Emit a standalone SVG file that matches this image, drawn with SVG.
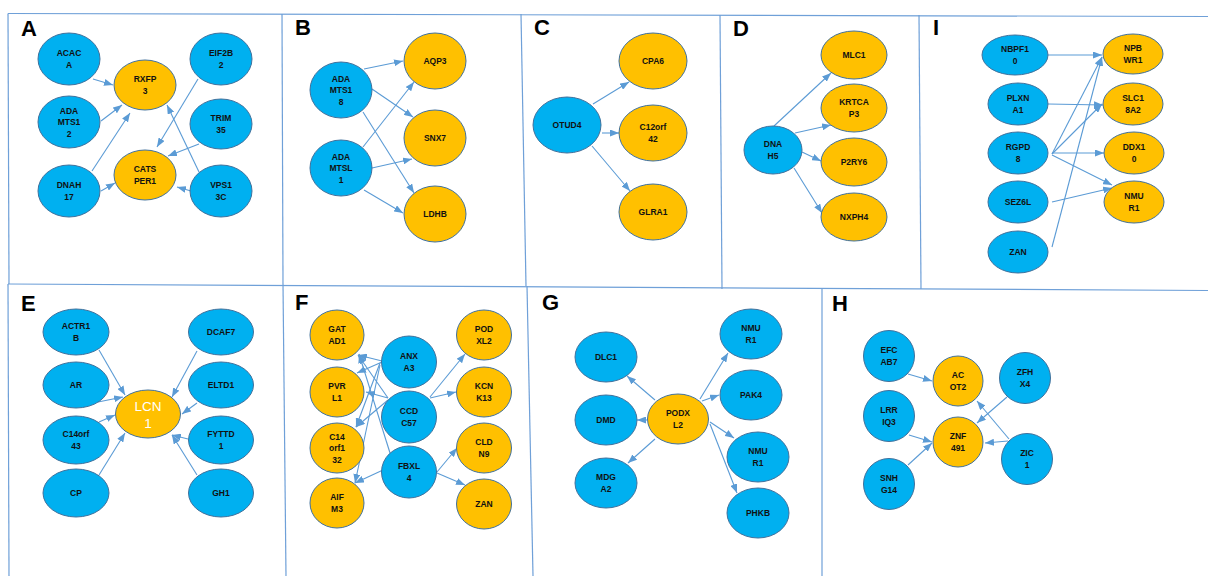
<svg xmlns="http://www.w3.org/2000/svg" width="1208" height="576" viewBox="0 0 1208 576">
<style>
.bg{fill:#ffffff}
.frame{stroke:#6FA0D8;stroke-width:1.2;fill:none}
.b{fill:#00B0F0;stroke:#41719C;stroke-width:1}
.o{fill:#FFC000;stroke:#41719C;stroke-width:1}
.t{font-family:"Liberation Sans",Arial,sans-serif;font-weight:bold;font-size:8.5px;fill:#111111;text-anchor:middle}
.w{font-family:"Liberation Sans",Arial,sans-serif;font-size:13.5px;fill:#ffffff;text-anchor:middle}
.lbl{font-family:"Liberation Sans",Arial,sans-serif;font-weight:bold;font-size:22px;fill:#000000}
.e line{stroke:#5B9BD5;stroke-width:1.1;marker-end:url(#ah)}
</style>
<defs>
<marker id="ah" markerUnits="userSpaceOnUse" markerWidth="9" markerHeight="7" refX="9" refY="3.5" orient="auto">
<path d="M0,0 L9,3.5 L0,7 z" fill="#5B9BD5"/>
</marker>
</defs>
<rect class="bg" x="0" y="0" width="1208" height="576"/>
<g id="frames" class="frame">
<line x1="8" y1="13.5" x2="1208" y2="16.5"/>
<line x1="8" y1="284" x2="1208" y2="290.5"/>
<line x1="8" y1="13.5" x2="9" y2="284"/>
<line x1="8" y1="284" x2="9" y2="576"/>
<line x1="282" y1="14" x2="283" y2="284"/>
<line x1="521" y1="14" x2="526" y2="286"/>
<line x1="720" y1="15" x2="722" y2="289"/>
<line x1="919" y1="15" x2="921" y2="289"/>
<line x1="283" y1="284" x2="286" y2="576"/>
<line x1="527" y1="286" x2="533" y2="576"/>
<line x1="822" y1="289" x2="822" y2="576"/>
</g>
<g id="labels">
<text class="lbl" x="21" y="36">A</text>
<text class="lbl" x="295" y="35">B</text>
<text class="lbl" x="534" y="35">C</text>
<text class="lbl" x="733" y="36">D</text>
<text class="lbl" x="933" y="35">I</text>
<text class="lbl" x="21" y="311">E</text>
<text class="lbl" x="295" y="310">F</text>
<text class="lbl" x="542" y="310">G</text>
<text class="lbl" x="832" y="311">H</text>
</g>
<g id="connectors" class="e">
<!-- A -->
<line x1="93" y1="79" x2="113" y2="85"/>
<line x1="101" y1="121" x2="122" y2="105"/>
<line x1="92" y1="171" x2="130" y2="113"/>
<line x1="101" y1="191" x2="115" y2="183"/>
<line x1="198" y1="79" x2="157" y2="147"/>
<line x1="199" y1="144" x2="168" y2="156"/>
<line x1="199" y1="172" x2="167" y2="105"/>
<line x1="191" y1="191" x2="177" y2="187"/>
<!-- B -->
<line x1="364" y1="69" x2="403" y2="61"/>
<line x1="372" y1="89" x2="413" y2="117"/>
<line x1="363" y1="112" x2="414" y2="193"/>
<line x1="363" y1="147" x2="414" y2="82"/>
<line x1="372" y1="168" x2="412" y2="159"/>
<line x1="364" y1="190" x2="403" y2="213"/>
<!-- C -->
<line x1="593" y1="104" x2="629" y2="82"/>
<line x1="602" y1="133" x2="619" y2="133"/>
<line x1="592" y1="146" x2="630" y2="191"/>
<!-- D -->
<line x1="774" y1="126" x2="831" y2="73"/>
<line x1="795" y1="133" x2="831" y2="125"/>
<line x1="802" y1="152" x2="821" y2="161"/>
<line x1="794" y1="168" x2="822" y2="213"/>
<!-- I -->
<line x1="1048" y1="55" x2="1102" y2="55"/>
<line x1="1048" y1="104" x2="1103" y2="105"/>
<line x1="1052" y1="154" x2="1102" y2="57"/>
<line x1="1052" y1="154" x2="1102" y2="104"/>
<line x1="1052" y1="153" x2="1104" y2="153"/>
<line x1="1052" y1="155" x2="1112" y2="185"/>
<line x1="1052" y1="202" x2="1112" y2="188"/>
<line x1="1052" y1="247" x2="1102" y2="57"/>
<!-- E -->
<line x1="99" y1="350" x2="125" y2="395"/>
<line x1="98" y1="402" x2="123" y2="397"/>
<line x1="99" y1="422" x2="115" y2="415"/>
<line x1="99" y1="475" x2="125" y2="433"/>
<line x1="197" y1="351" x2="172" y2="397"/>
<line x1="197" y1="403" x2="182" y2="414"/>
<line x1="188" y1="439" x2="172" y2="435"/>
<line x1="197" y1="475" x2="172" y2="435"/>
<!-- F -->
<line x1="382" y1="361" x2="358" y2="355"/>
<line x1="382" y1="362" x2="357" y2="373"/>
<line x1="380" y1="363" x2="356" y2="427"/>
<line x1="380" y1="365" x2="355" y2="483"/>
<line x1="388" y1="398" x2="358" y2="355"/>
<line x1="388" y1="398" x2="366" y2="392"/>
<line x1="388" y1="400" x2="356" y2="427"/>
<line x1="390" y1="453" x2="359" y2="354"/>
<line x1="383" y1="470" x2="355" y2="483"/>
<line x1="430" y1="397" x2="465" y2="354"/>
<line x1="430" y1="398" x2="456" y2="392"/>
<line x1="437" y1="472" x2="457" y2="448"/>
<line x1="437" y1="473" x2="465" y2="485"/>
<!-- G -->
<line x1="655" y1="400" x2="627" y2="376"/>
<line x1="647" y1="420" x2="637" y2="420"/>
<line x1="655" y1="439" x2="628" y2="463"/>
<line x1="700" y1="399" x2="728" y2="353"/>
<line x1="702" y1="401" x2="719" y2="395"/>
<line x1="710" y1="422" x2="734" y2="438"/>
<line x1="710" y1="424" x2="737" y2="493"/>
<!-- H -->
<line x1="908" y1="374" x2="932" y2="381"/>
<line x1="909" y1="435" x2="932" y2="442"/>
<line x1="908" y1="465" x2="932" y2="443"/>
<line x1="1007" y1="397" x2="977" y2="423"/>
<line x1="1009" y1="439" x2="977" y2="401"/>
<line x1="1008" y1="441" x2="985" y2="443"/>
</g>
<!-- Panel A -->
<g id="A-ACACA"><ellipse class="b" cx="69" cy="59" rx="31" ry="26"/><text class="t" x="69" y="56">ACAC</text><text class="t" x="69" y="68">A</text></g>
<g id="A-ADAMTS12"><ellipse class="b" cx="69" cy="122" rx="31" ry="26"/><text class="t" x="69" y="113.5">ADA</text><text class="t" x="69" y="125">MTS1</text><text class="t" x="69" y="136.5">2</text></g>
<g id="A-DNAH17"><ellipse class="b" cx="69" cy="191" rx="31" ry="26"/><text class="t" x="69" y="188">DNAH</text><text class="t" x="69" y="200">17</text></g>
<g id="A-RXFP3"><ellipse class="o" cx="145" cy="85" rx="31" ry="25"/><text class="t" x="145" y="82">RXFP</text><text class="t" x="145" y="94">3</text></g>
<g id="A-CATSPER1"><ellipse class="o" cx="145" cy="175" rx="31" ry="25"/><text class="t" x="145" y="172">CATS</text><text class="t" x="145" y="184">PER1</text></g>
<g id="A-EIF2B2"><ellipse class="b" cx="221" cy="59" rx="31" ry="26"/><text class="t" x="221" y="56">EIF2B</text><text class="t" x="221" y="68">2</text></g>
<g id="A-TRIM35"><ellipse class="b" cx="221" cy="124" rx="31" ry="25"/><text class="t" x="221" y="121">TRIM</text><text class="t" x="221" y="133">35</text></g>
<g id="A-VPS13C"><ellipse class="b" cx="221" cy="191" rx="31" ry="26"/><text class="t" x="221" y="188">VPS1</text><text class="t" x="221" y="200">3C</text></g>
<!-- Panel B -->
<g id="B-ADAMTS18"><ellipse class="b" cx="341" cy="90" rx="31" ry="28"/><text class="t" x="341" y="81.5">ADA</text><text class="t" x="341" y="93">MTS1</text><text class="t" x="341" y="104.5">8</text></g>
<g id="B-ADAMTSL1"><ellipse class="b" cx="341" cy="168" rx="31" ry="28"/><text class="t" x="341" y="159.5">ADA</text><text class="t" x="341" y="171">MTSL</text><text class="t" x="341" y="182.5">1</text></g>
<g id="B-AQP3"><ellipse class="o" cx="435" cy="61" rx="31" ry="28"/><text class="t" x="435" y="64">AQP3</text></g>
<g id="B-SNX7"><ellipse class="o" cx="435" cy="138" rx="31" ry="28"/><text class="t" x="435" y="141">SNX7</text></g>
<g id="B-LDHB"><ellipse class="o" cx="435" cy="214" rx="31" ry="28"/><text class="t" x="435" y="217">LDHB</text></g>
<!-- Panel C -->
<g id="C-OTUD4"><ellipse class="b" cx="567" cy="125" rx="34" ry="28"/><text class="t" x="567" y="128">OTUD4</text></g>
<g id="C-CPA6"><ellipse class="o" cx="653" cy="61" rx="34" ry="28"/><text class="t" x="653" y="64">CPA6</text></g>
<g id="C-C12orf42"><ellipse class="o" cx="653" cy="133" rx="34" ry="28"/><text class="t" x="653" y="130">C12orf</text><text class="t" x="653" y="142">42</text></g>
<g id="C-GLRA1"><ellipse class="o" cx="653" cy="212" rx="34" ry="28"/><text class="t" x="653" y="215">GLRA1</text></g>
<!-- Panel D -->
<g id="D-DNAH5"><ellipse class="b" cx="773" cy="150" rx="29" ry="24"/><text class="t" x="773" y="147">DNA</text><text class="t" x="773" y="159">H5</text></g>
<g id="D-MLC1"><ellipse class="o" cx="854" cy="55" rx="33" ry="24"/><text class="t" x="854" y="58">MLC1</text></g>
<g id="D-KRTCAP3"><ellipse class="o" cx="854" cy="108" rx="33" ry="24"/><text class="t" x="854" y="105">KRTCA</text><text class="t" x="854" y="117">P3</text></g>
<g id="D-P2RY6"><ellipse class="o" cx="854" cy="162" rx="33" ry="24"/><text class="t" x="854" y="165">P2RY6</text></g>
<g id="D-NXPH4"><ellipse class="o" cx="854" cy="217" rx="33" ry="24"/><text class="t" x="854" y="220">NXPH4</text></g>
<!-- Panel I -->
<g id="I-NBPF10"><ellipse class="b" cx="1015" cy="55" rx="33" ry="20"/><text class="t" x="1015" y="52">NBPF1</text><text class="t" x="1015" y="64">0</text></g>
<g id="I-PLXNA1"><ellipse class="b" cx="1018" cy="104" rx="30" ry="21"/><text class="t" x="1018" y="101">PLXN</text><text class="t" x="1018" y="113">A1</text></g>
<g id="I-RGPD8"><ellipse class="b" cx="1018" cy="153" rx="30" ry="21"/><text class="t" x="1018" y="150">RGPD</text><text class="t" x="1018" y="162">8</text></g>
<g id="I-SEZ6L"><ellipse class="b" cx="1018" cy="202" rx="30" ry="21"/><text class="t" x="1018" y="205">SEZ6L</text></g>
<g id="I-ZAN"><ellipse class="b" cx="1018" cy="252" rx="30" ry="21"/><text class="t" x="1018" y="255">ZAN</text></g>
<g id="I-NPBWR1"><ellipse class="o" cx="1133" cy="54" rx="30" ry="20"/><text class="t" x="1133" y="51">NPB</text><text class="t" x="1133" y="63">WR1</text></g>
<g id="I-SLC18A2"><ellipse class="o" cx="1133" cy="104" rx="30" ry="21"/><text class="t" x="1133" y="101">SLC1</text><text class="t" x="1133" y="113">8A2</text></g>
<g id="I-DDX10"><ellipse class="o" cx="1134" cy="153" rx="30" ry="21"/><text class="t" x="1134" y="150">DDX1</text><text class="t" x="1134" y="162">0</text></g>
<g id="I-NMUR1"><ellipse class="o" cx="1134" cy="202" rx="30" ry="21"/><text class="t" x="1134" y="199">NMU</text><text class="t" x="1134" y="211">R1</text></g>
<!-- Panel E -->
<g id="E-ACTR1B"><ellipse class="b" cx="76" cy="332" rx="33" ry="23"/><text class="t" x="76" y="329">ACTR1</text><text class="t" x="76" y="341">B</text></g>
<g id="E-AR"><ellipse class="b" cx="76" cy="385" rx="33" ry="23"/><text class="t" x="76" y="388">AR</text></g>
<g id="E-C14orf43"><ellipse class="b" cx="76" cy="440" rx="33" ry="24"/><text class="t" x="76" y="437">C14orf</text><text class="t" x="76" y="449">43</text></g>
<g id="E-CP"><ellipse class="b" cx="76" cy="493" rx="33" ry="24"/><text class="t" x="76" y="496">CP</text></g>
<g id="E-DCAF7"><ellipse class="b" cx="221" cy="332" rx="32.5" ry="23"/><text class="t" x="221" y="335">DCAF7</text></g>
<g id="E-ELTD1"><ellipse class="b" cx="221" cy="385" rx="32.5" ry="23"/><text class="t" x="221" y="388">ELTD1</text></g>
<g id="E-FYTTD1"><ellipse class="b" cx="221" cy="440" rx="32.5" ry="24"/><text class="t" x="221" y="437">FYTTD</text><text class="t" x="221" y="449">1</text></g>
<g id="E-GH1"><ellipse class="b" cx="221" cy="493" rx="32.5" ry="24"/><text class="t" x="221" y="496">GH1</text></g>
<g id="E-LCN1"><ellipse class="o" cx="148" cy="414" rx="32.5" ry="24"/><text class="w" x="148" y="411">LCN</text><text class="w" x="148" y="428">1</text></g>
<!-- Panel F -->
<g id="F-GATAD1"><ellipse class="o" cx="337" cy="335" rx="27" ry="25"/><text class="t" x="337" y="332">GAT</text><text class="t" x="337" y="344">AD1</text></g>
<g id="F-PVRL1"><ellipse class="o" cx="337" cy="392" rx="27" ry="25"/><text class="t" x="337" y="389">PVR</text><text class="t" x="337" y="401">L1</text></g>
<g id="F-C14orf132"><ellipse class="o" cx="337" cy="448" rx="27" ry="25"/><text class="t" x="337" y="439.5">C14</text><text class="t" x="337" y="451">orf1</text><text class="t" x="337" y="462.5">32</text></g>
<g id="F-AIFM3"><ellipse class="o" cx="337" cy="503" rx="27" ry="25"/><text class="t" x="337" y="500">AIF</text><text class="t" x="337" y="512">M3</text></g>
<g id="F-ANXA3"><ellipse class="b" cx="409" cy="362" rx="27.5" ry="26"/><text class="t" x="409" y="359">ANX</text><text class="t" x="409" y="371">A3</text></g>
<g id="F-CCDC57"><ellipse class="b" cx="409" cy="417" rx="27.5" ry="26"/><text class="t" x="409" y="414">CCD</text><text class="t" x="409" y="426">C57</text></g>
<g id="F-FBXL4"><ellipse class="b" cx="409" cy="472" rx="27.5" ry="26"/><text class="t" x="409" y="469">FBXL</text><text class="t" x="409" y="481">4</text></g>
<g id="F-PODXL2"><ellipse class="o" cx="484" cy="335" rx="27.5" ry="25"/><text class="t" x="484" y="332">POD</text><text class="t" x="484" y="344">XL2</text></g>
<g id="F-KCNK13"><ellipse class="o" cx="484" cy="392" rx="27.5" ry="25"/><text class="t" x="484" y="389">KCN</text><text class="t" x="484" y="401">K13</text></g>
<g id="F-CLDN9"><ellipse class="o" cx="484" cy="448" rx="27.5" ry="25"/><text class="t" x="484" y="445">CLD</text><text class="t" x="484" y="457">N9</text></g>
<g id="F-ZAN"><ellipse class="o" cx="484" cy="504" rx="27.5" ry="25"/><text class="t" x="484" y="507">ZAN</text></g>
<!-- Panel G -->
<g id="G-DLC1"><ellipse class="b" cx="606" cy="357" rx="31" ry="25"/><text class="t" x="606" y="360">DLC1</text></g>
<g id="G-DMD"><ellipse class="b" cx="606" cy="420" rx="31" ry="25"/><text class="t" x="606" y="423">DMD</text></g>
<g id="G-MDGA2"><ellipse class="b" cx="606" cy="483" rx="31" ry="25"/><text class="t" x="606" y="480">MDG</text><text class="t" x="606" y="492">A2</text></g>
<g id="G-PODXL2"><ellipse class="o" cx="678" cy="419" rx="30.5" ry="25"/><text class="t" x="678" y="416">PODX</text><text class="t" x="678" y="428">L2</text></g>
<g id="G-NMUR1a"><ellipse class="b" cx="751" cy="334" rx="31" ry="25"/><text class="t" x="751" y="331">NMU</text><text class="t" x="751" y="343">R1</text></g>
<g id="G-PAK4"><ellipse class="b" cx="751" cy="395" rx="31" ry="25"/><text class="t" x="751" y="398">PAK4</text></g>
<g id="G-NMUR1b"><ellipse class="b" cx="758" cy="457" rx="31" ry="25"/><text class="t" x="758" y="454">NMU</text><text class="t" x="758" y="466">R1</text></g>
<g id="G-PHKB"><ellipse class="b" cx="758" cy="513" rx="31" ry="25"/><text class="t" x="758" y="516">PHKB</text></g>
<!-- Panel H -->
<g id="H-EFCAB7"><circle class="b" cx="889" cy="356" r="25.5"/><text class="t" x="889" y="353">EFC</text><text class="t" x="889" y="365">AB7</text></g>
<g id="H-LRRIQ3"><circle class="b" cx="889" cy="416" r="25.5"/><text class="t" x="889" y="413">LRR</text><text class="t" x="889" y="425">IQ3</text></g>
<g id="H-SNHG14"><circle class="b" cx="889" cy="484" r="25.5"/><text class="t" x="889" y="481">SNH</text><text class="t" x="889" y="493">G14</text></g>
<g id="H-ACOT2"><circle class="o" cx="958" cy="381" r="25"/><text class="t" x="958" y="378">AC</text><text class="t" x="958" y="390">OT2</text></g>
<g id="H-ZNF491"><circle class="o" cx="958" cy="442" r="25"/><text class="t" x="958" y="439">ZNF</text><text class="t" x="958" y="451">491</text></g>
<g id="H-ZFHX4"><circle class="b" cx="1025" cy="378" r="25.5"/><text class="t" x="1025" y="375">ZFH</text><text class="t" x="1025" y="387">X4</text></g>
<g id="H-ZIC1"><circle class="b" cx="1027" cy="459" r="25.5"/><text class="t" x="1027" y="456">ZIC</text><text class="t" x="1027" y="468">1</text></g>
</svg>
